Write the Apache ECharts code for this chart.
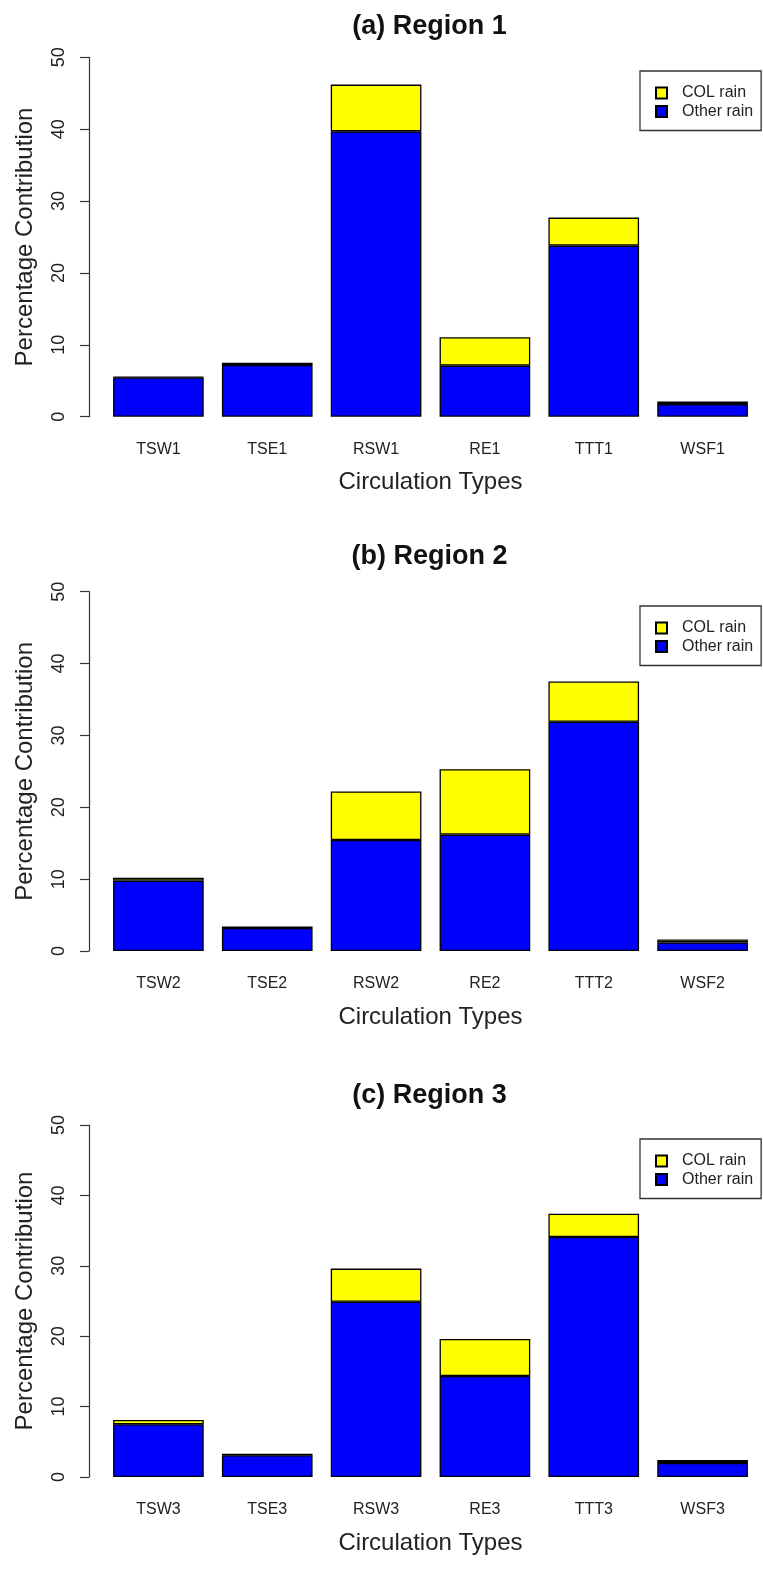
<!DOCTYPE html>
<html>
<head>
<meta charset="utf-8">
<title>Percentage Contribution by Circulation Type</title>
<script src="https://cdn.jsdelivr.net/npm/echarts@6/dist/echarts.min.js"></script>
<style>
  html, body { margin: 0; padding: 0; background: #fff; }
  #chart { width: 763px; height: 1573px; }
</style>
</head>
<body>
<div id="chart"></div>
<script>
// Circulation types per region
const categories1 = ['TSW1', 'TSE1', 'RSW1', 'RE1', 'TTT1', 'WSF1'];
const categories2 = ['TSW2', 'TSE2', 'RSW2', 'RE2', 'TTT2', 'WSF2'];
const categories3 = ['TSW3', 'TSE3', 'RSW3', 'RE3', 'TTT3', 'WSF3'];

// Rain not associated with cut-off lows (bottom of each stack), %
const otherRain1 = [5.45, 7.2, 39.7, 7.1, 23.8, 1.75];
const otherRain2 = [9.8, 3.2, 15.45, 16.2, 31.9, 1.2];
const otherRain3 = [7.5, 3.1, 24.9, 14.35, 34.1, 2.0];

// Cut-off low rain (top of each stack), %
const colRain1 = [0.1, 0.3, 6.5, 3.95, 3.9, 0.35];
const colRain2 = [0.4, 0.2, 6.75, 9.1, 5.6, 0.4];
const colRain3 = [0.6, 0.2, 4.7, 5.25, 3.3, 0.4];

const panelTitles = ['(a) Region 1', '(b) Region 2', '(c) Region 3'];
const yTicks = { min: 0, max: 50, interval: 10 };

const panels = [
  { title: panelTitles[0], cats: categories1, other: otherRain1, col: colRain1 },
  { title: panelTitles[1], cats: categories2, other: otherRain2, col: colRain2 },
  { title: panelTitles[2], cats: categories3, other: otherRain3, col: colRain3 }
];

// Vertical layout of each panel: plot top (value 50) and baseline (value 0)
const layout = [
  { top: 57.3, zero: 416.7, titleTop: 13, legendTop: 71 },
  { top: 591.7, zero: 951, titleTop: 543, legendTop: 606 },
  { top: 1125, zero: 1477, titleTop: 1082, legendTop: 1139 }
];

const FONT = '"Liberation Sans", Arial, Helvetica, sans-serif';
const GRID_LEFT = 104;
const GRID_WIDTH = 653;
const INK = '#111';

const grids = [], xAxes = [], yAxes = [], series = [], titles = [], legends = [];

panels.forEach((p, i) => {
  const L = layout[i];
  grids.push({
    left: GRID_LEFT,
    width: GRID_WIDTH,
    top: L.top,
    height: L.zero - L.top,
    containLabel: false
  });
  xAxes.push({
    type: 'category',
    gridIndex: i,
    data: p.cats,
    axisLine: { show: false },
    axisTick: { show: false },
    axisLabel: { fontSize: 16, color: '#222', fontFamily: FONT, margin: 25 },
    name: 'Circulation Types',
    nameLocation: 'middle',
    nameGap: 54,
    nameTextStyle: { fontSize: 24, color: '#222', fontFamily: FONT }
  });
  yAxes.push({
    type: 'value',
    gridIndex: i,
    min: yTicks.min,
    max: yTicks.max,
    interval: yTicks.interval,
    offset: 15,
    splitLine: { show: false },
    axisLine: { show: true, lineStyle: { color: '#333', width: 1.2 } },
    axisTick: { show: true, length: 9, lineStyle: { color: '#333', width: 1.2 } },
    axisLabel: { rotate: 90, fontSize: 18, color: '#222', fontFamily: FONT, margin: 21 },
    name: 'Percentage Contribution',
    nameLocation: 'middle',
    nameRotate: 90,
    nameGap: 52,
    nameTextStyle: { fontSize: 24, color: '#222', fontFamily: FONT }
  });
  series.push({
    name: 'Other rain',
    type: 'bar',
    xAxisIndex: i,
    yAxisIndex: i,
    stack: 'region' + (i + 1),
    data: p.other,
    barCategoryGap: '16.7%',
    itemStyle: { color: '#0000ff', borderColor: '#000', borderWidth: 1.3 }
  });
  series.push({
    name: 'COL rain',
    type: 'bar',
    xAxisIndex: i,
    yAxisIndex: i,
    stack: 'region' + (i + 1),
    data: p.col,
    barCategoryGap: '16.7%',
    itemStyle: { color: '#ffff00', borderColor: '#000', borderWidth: 1.3 }
  });
  titles.push({
    text: p.title,
    left: GRID_LEFT + GRID_WIDTH / 2 - 1,
    textAlign: 'center',
    top: L.titleTop,
    padding: 0,
    textStyle: { fontSize: 27, fontWeight: 'bold', color: INK, fontFamily: FONT }
  });
  legends.push({
    data: ['COL rain', 'Other rain'],
    orient: 'vertical',
    left: 640,
    top: L.legendTop,
    padding: [14, 8, 11, 15],
    itemWidth: 11,
    itemHeight: 11,
    itemGap: 2.5,
    icon: 'rect',
    selectedMode: false,
    borderColor: '#333',
    borderWidth: 1.3,
    backgroundColor: '#fff',
    textStyle: { fontSize: 16, color: '#222', fontFamily: FONT, padding: [0, 0, 0, 10] }
  });
});

const chart = echarts.init(document.getElementById('chart'), null, { renderer: 'canvas' });
chart.setOption({
  animation: false,
  backgroundColor: '#fff',
  title: titles,
  legend: legends,
  grid: grids,
  xAxis: xAxes,
  yAxis: yAxes,
  series: series
});
</script>
</body>
</html>
